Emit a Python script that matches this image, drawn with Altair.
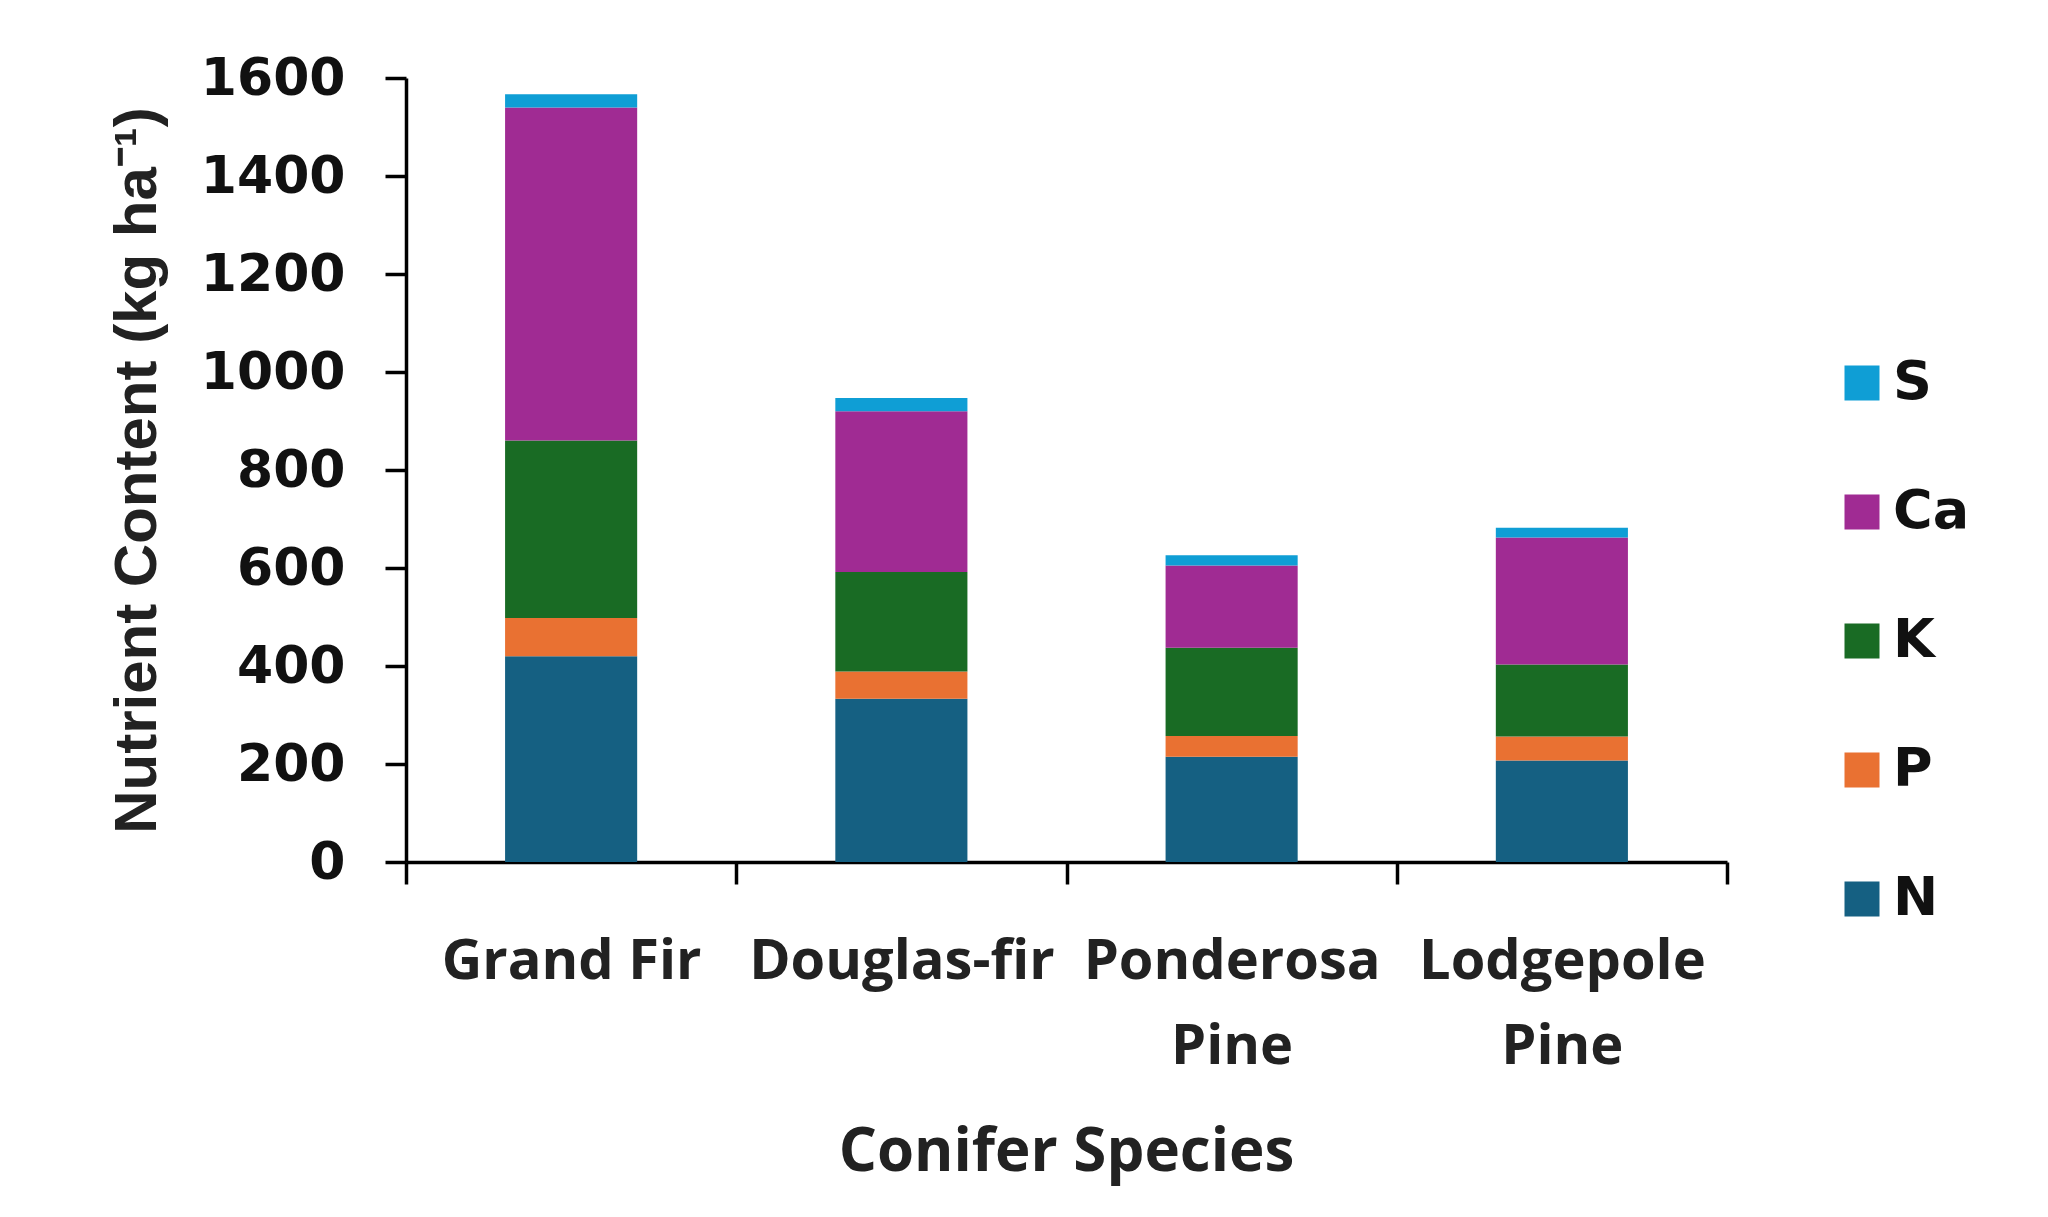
import altair as alt
import pandas as pd

species = ["Grand Fir", "Douglas-fir", "Ponderosa Pine", "Lodgepole Pine"]
nutrients = ["N", "P", "K", "Ca", "S"]
N = [420, 333, 215, 207]
P = [78, 56, 42, 49]
K = [362, 203, 180, 147]
Ca = [680, 328, 168, 259]
S = [27, 27, 21, 20]

legend_order = ["S", "Ca", "K", "P", "N"]
colors = ["#0F9ED5", "#A02B93", "#196B24", "#E97132", "#156082"]

series = {"N": N, "P": P, "K": K, "Ca": Ca, "S": S}
rows = []
for i, nut in enumerate(nutrients):
    for sp, v in zip(species, series[nut]):
        rows.append({"species": sp, "nutrient": nut, "value": v, "ord": i})
df = pd.DataFrame(rows)

chart = alt.Chart(df).mark_bar(width=alt.RelativeBandSize(0.4)).encode(
    x=alt.X("species:N", sort=species,
            scale=alt.Scale(paddingInner=0, paddingOuter=0),
            axis=alt.Axis(title="Conifer Species", labelAngle=0,
                          labelExpr="indexof(datum.label, 'Pine') > 0 ? split(datum.label, ' ') : datum.label",
                          labelFont="Open Sans", labelFontWeight="bold", labelFontSize=56,
                          labelColor="#222222", labelLineHeight=85, labelPadding=50,
                          labelBaseline="top", labelLimit=500,
                          tickBand="extent", tickSize=22, tickWidth=3.5, tickColor="black",
                          domainColor="black", domainWidth=3.5,
                          titleFont="Open Sans", titleFontWeight="bold", titleFontSize=60,
                          titleColor="#222222", titleX=660, titleY=290,
                          titleBaseline="middle", titleAlign="center")),
    y=alt.Y("value:Q", stack="zero",
            scale=alt.Scale(domain=[0, 1600], nice=False),
            axis=alt.Axis(title="Nutrient Content (kg ha⁻¹)", values=list(range(0, 1601, 200)),
                          format="d",
                          labelFont="DejaVu Sans", labelFontWeight="bold", labelFontSize=52,
                          labelColor="#111111", labelPadding=40,
                          tickSize=21, tickWidth=3.5, tickColor="black",
                          domainColor="black", domainWidth=3.5, grid=False,
                          titleFont="Liberation Sans", titleFontWeight="bold", titleFontSize=60,
                          titleColor="#222222", titleAngle=270, titleX=-269, titleY=392,
                          titleBaseline="middle", titleAlign="center")),
    color=alt.Color("nutrient:N",
                    scale=alt.Scale(domain=legend_order, range=colors),
                    legend=alt.Legend(title=None, orient="none", legendX=1429, legendY=278,
                                      symbolType="square", symbolSize=1225, symbolStrokeWidth=0,
                                      labelFont="DejaVu Sans", labelFontWeight="bold",
                                      labelFontSize=54, labelColor="#111111",
                                      rowPadding=75, labelOffset=4, padding=0)),
    order=alt.Order("ord:Q", sort="ascending"),
).properties(
    width=1321, height=784,
    autosize=alt.AutoSizeParams(type="none"),
    padding={"left": 398, "top": 70, "right": 313, "bottom": 347},
).configure_view(stroke=None).configure_axis(grid=False)

chart.save("out.html", embed_options={"renderer": "svg", "actions": False})
